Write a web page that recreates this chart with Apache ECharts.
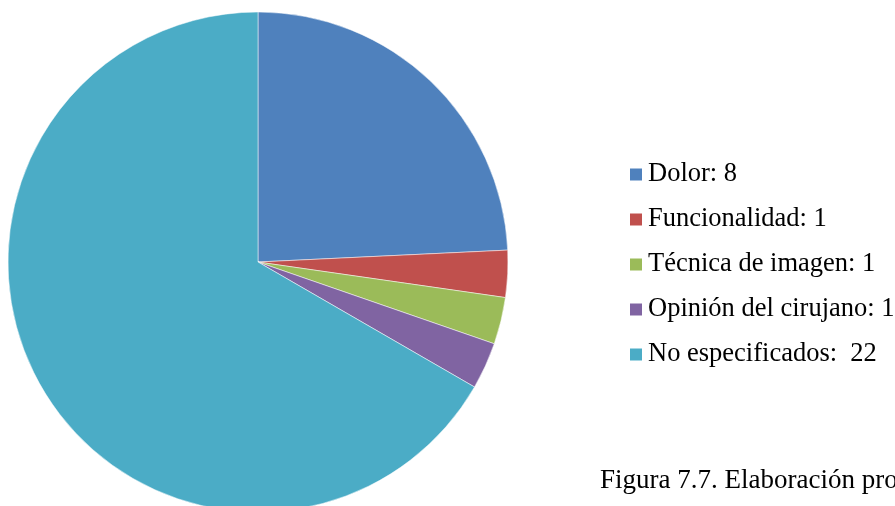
<!DOCTYPE html>
<html><head><meta charset="utf-8">
<script src="https://cdn.jsdelivr.net/npm/echarts@6/dist/echarts.min.js"></script>
<style>html,body{margin:0;padding:0;background:#fff}#c{width:895px;height:506px}</style>
</head><body><div id="c"></div>
<script>
const categories = ['Dolor', 'Funcionalidad', 'Técnica de imagen', 'Opinión del cirujano', 'No especificados'];
const values = [8, 1, 1, 1, 22];
const labels = ['Dolor: 8', 'Funcionalidad: 1', 'Técnica de imagen: 1', 'Opinión del cirujano: 1', 'No especificados:  22'];
const colors = ['#4F81BD', '#C0504D', '#9BBB59', '#8064A2', '#4BACC6'];
const caption = 'Figura 7.7. Elaboración propia';

const chart = echarts.init(document.getElementById('c'), null, {renderer: 'canvas'});
const font = '"Liberation Serif", "Times New Roman", serif';
chart.setOption({
  animation: false,
  color: colors,
  legend: {
    orient: 'vertical',
    left: 628,
    top: 161,
    padding: 0,
    itemWidth: 14,
    itemHeight: 14,
    itemGap: 18,
    icon: 'rect',
    data: categories,
    formatter: function (name) { return labels[categories.indexOf(name)]; },
    textStyle: {fontFamily: font, fontSize: 26.5, lineHeight: 26, color: '#000'}
  },
  graphic: [{
    type: 'text', x: 600, y: 481,
    style: {text: caption, font: '27px ' + font, fill: '#000', verticalAlign: 'middle', align: 'left'}
  }],
  series: [{
    type: 'pie',
    center: [258, 262],
    radius: 250,
    startAngle: 90,
    clockwise: true,
    label: {show: false},
    labelLine: {show: false},
    itemStyle: {borderColor: '#ffffff', borderWidth: 0.5},
    emphasis: {disabled: true},
    data: categories.map((c, i) => ({name: c, value: values[i]}))
  }]
});
</script></body></html>
